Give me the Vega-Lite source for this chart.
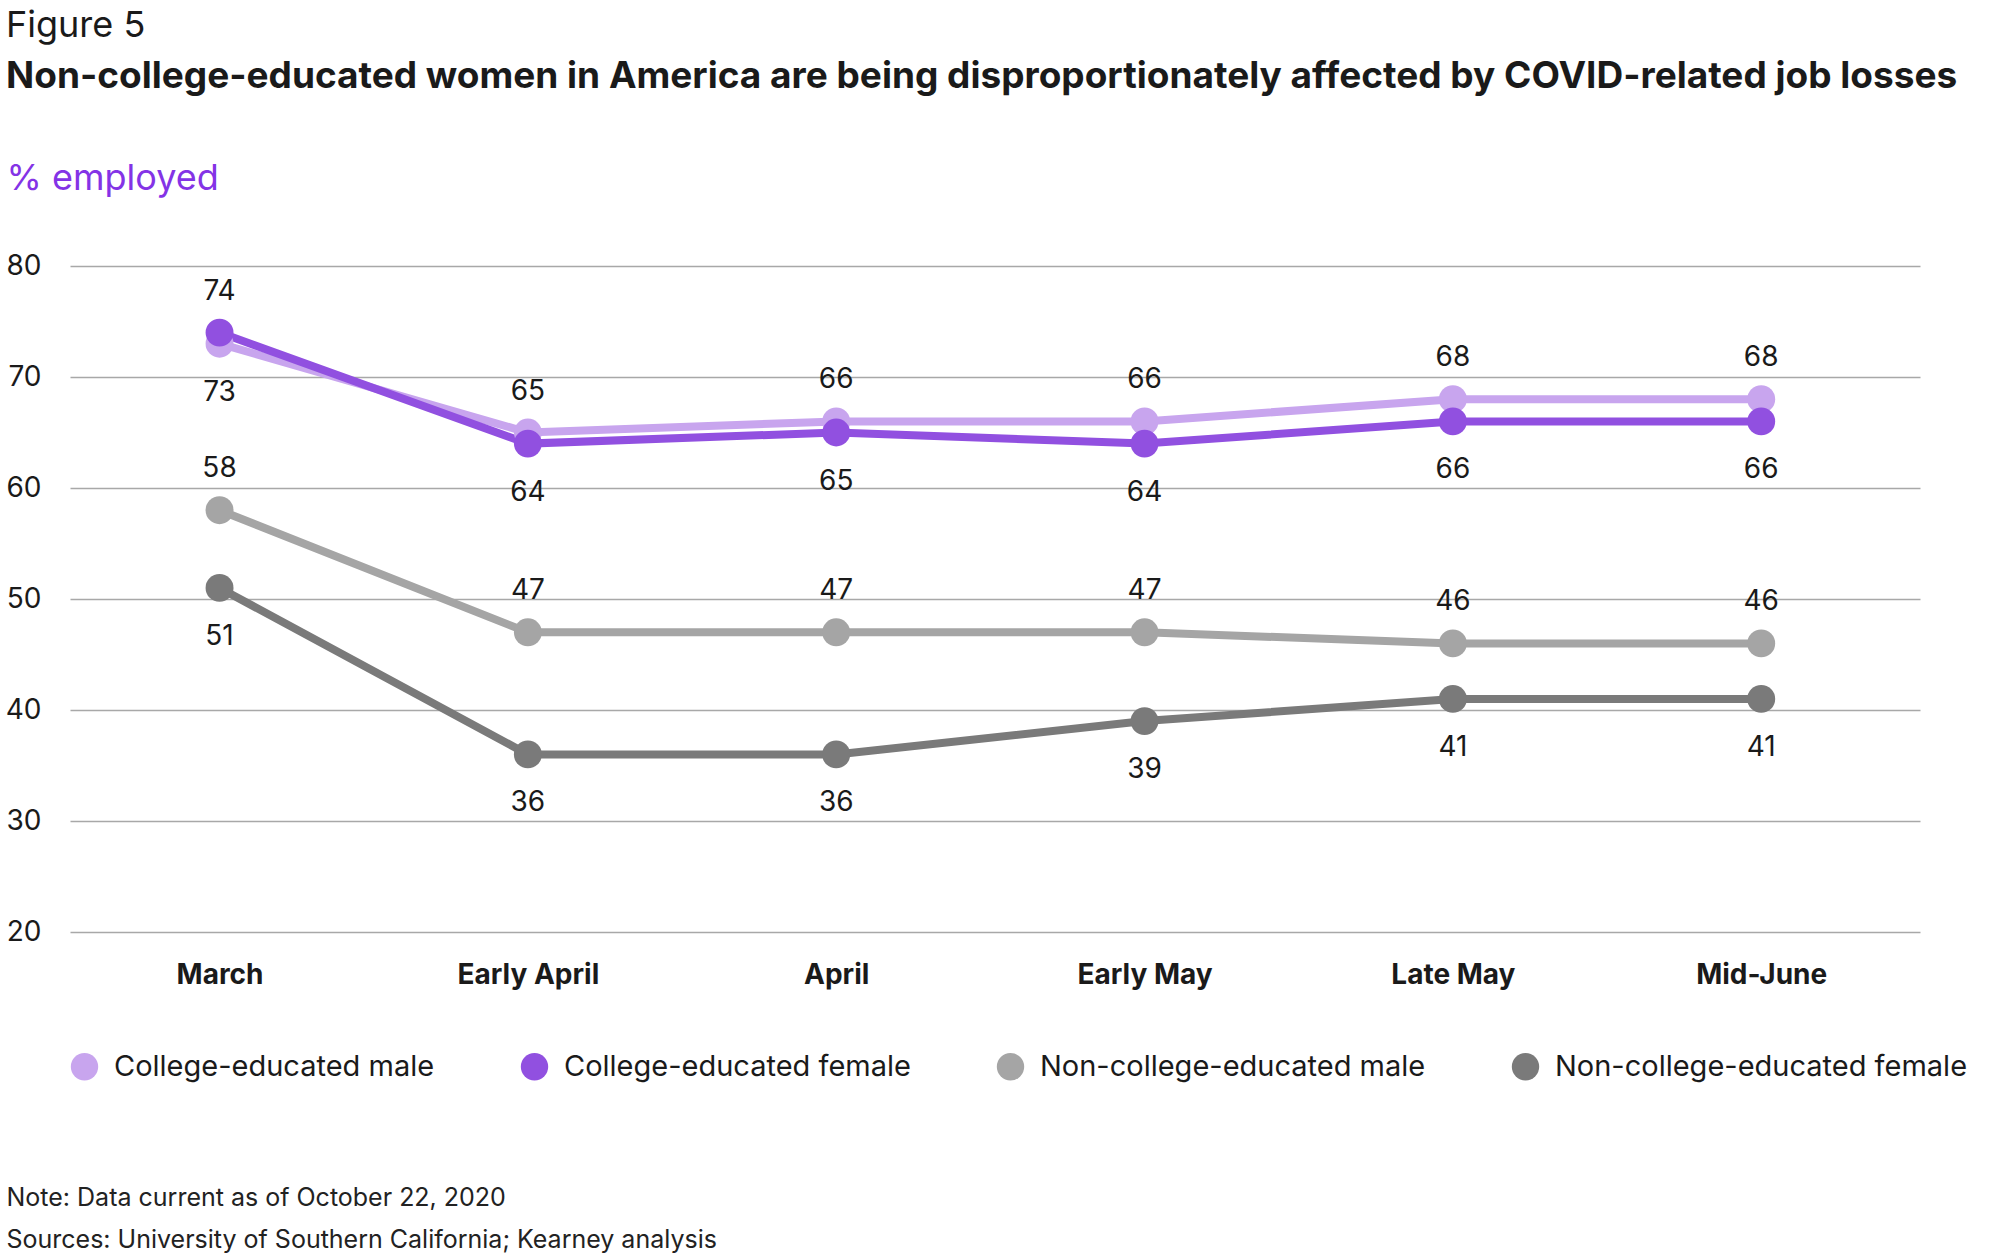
{
  "$schema": "https://vega.github.io/schema/vega-lite/v6.json",
  "width": 1850,
  "height": 666,
  "autosize": {"type": "none"},
  "padding": {"left": 70, "top": 266, "right": 80, "bottom": 322},
  "background": "white",
  "title": {
    "text": "Figure 5",
    "subtitle": "Non-college-educated women in America are being disproportionately affected by COVID-related job losses",
    "anchor": "start",
    "frame": "group",
    "dx": -64,
    "offset": 64,
    "font": "Inter",
    "fontSize": 36,
    "fontWeight": "normal",
    "color": "#1a1a1a",
    "subtitleFont": "Inter",
    "subtitleFontSize": 37,
    "subtitleFontWeight": "bold",
    "subtitleColor": "#1a1a1a",
    "subtitlePadding": 14
  },
  "config": {
    "view": {"stroke": null},
    "font": "Inter",
    "axis": {"labelFont": "Inter", "titleFont": "Inter"},
    "legend": {"labelFont": "Inter"}
  },
  "data": {
    "values": [
      {"period": "March", "group": "College-educated male", "value": 73},
      {"period": "Early April", "group": "College-educated male", "value": 65},
      {"period": "April", "group": "College-educated male", "value": 66},
      {"period": "Early May", "group": "College-educated male", "value": 66},
      {"period": "Late May", "group": "College-educated male", "value": 68},
      {"period": "Mid-June", "group": "College-educated male", "value": 68},
      {"period": "March", "group": "College-educated female", "value": 74},
      {"period": "Early April", "group": "College-educated female", "value": 64},
      {"period": "April", "group": "College-educated female", "value": 65},
      {"period": "Early May", "group": "College-educated female", "value": 64},
      {"period": "Late May", "group": "College-educated female", "value": 66},
      {"period": "Mid-June", "group": "College-educated female", "value": 66},
      {"period": "March", "group": "Non-college-educated male", "value": 58},
      {"period": "Early April", "group": "Non-college-educated male", "value": 47},
      {"period": "April", "group": "Non-college-educated male", "value": 47},
      {"period": "Early May", "group": "Non-college-educated male", "value": 47},
      {"period": "Late May", "group": "Non-college-educated male", "value": 46},
      {"period": "Mid-June", "group": "Non-college-educated male", "value": 46},
      {"period": "March", "group": "Non-college-educated female", "value": 51},
      {"period": "Early April", "group": "Non-college-educated female", "value": 36},
      {"period": "April", "group": "Non-college-educated female", "value": 36},
      {"period": "Early May", "group": "Non-college-educated female", "value": 39},
      {"period": "Late May", "group": "Non-college-educated female", "value": 41},
      {"period": "Mid-June", "group": "Non-college-educated female", "value": 41}
    ]
  },
  "encoding": {
    "x": {
      "field": "period",
      "type": "nominal",
      "sort": ["March", "Early April", "April", "Early May", "Late May", "Mid-June"],
      "scale": {"type": "point", "padding": 0.5, "align": 0.485},
      "axis": {
        "title": ["Note: Data current as of October 22, 2020", "Sources: University of Southern California; Kearney analysis"],
        "titleFontSize": 25,
        "titleFontWeight": "normal",
        "titleColor": "#222222",
        "titleAlign": "left",
        "titleAnchor": "start",
        "titleBaseline": "alphabetic",
        "titleX": -64,
        "titleY": 273,
        "titleLineHeight": 42,
        "labelAngle": 0,
        "labelFontSize": 28,
        "labelFontWeight": "bold",
        "labelColor": "#1a1a1a",
        "labelPadding": 29,
        "domain": false,
        "ticks": false,
        "grid": false
      }
    },
    "y": {
      "field": "value",
      "type": "quantitative",
      "scale": {"domain": [20, 80], "zero": false, "nice": false},
      "axis": {
        "values": [20, 30, 40, 50, 60, 70, 80],
        "title": "% employed",
        "titleAngle": 0,
        "titleAlign": "left",
        "titleBaseline": "alphabetic",
        "titleX": -64,
        "titleY": -77,
        "titleFontSize": 36,
        "titleFontWeight": "normal",
        "titleColor": "#8433e6",
        "labelFontSize": 28,
        "labelColor": "#1a1a1a",
        "labelPadding": 29,
        "domain": false,
        "ticks": false,
        "grid": true,
        "gridColor": "#a8a8a8",
        "gridWidth": 1.5
      }
    },
    "color": {
      "field": "group",
      "type": "nominal",
      "scale": {
        "domain": ["College-educated male", "College-educated female", "Non-college-educated male", "Non-college-educated female"],
        "range": ["#c8a5ee", "#9150e0", "#a5a5a5", "#7a7a7a"]
      },
      "legend": {
        "title": null,
        "orient": "none",
        "direction": "horizontal",
        "columns": 4,
        "legendX": 0,
        "legendY": 786,
        "padding": 0,
        "symbolType": "circle",
        "symbolSize": 750,
        "symbolOpacity": 1,
        "symbolStrokeWidth": 0,
        "labelFontSize": 29,
        "labelColor": "#1a1a1a",
        "labelOffset": 15,
        "columnPadding": 85,
        "labelLimit": 600
      }
    }
  },
  "layer": [
    {
      "mark": {"type": "line", "strokeWidth": 8}
    },
    {
      "mark": {"type": "circle", "size": 780, "opacity": 1}
    },
    {
      "transform": [
        {"filter": "(datum.group == 'College-educated male' && datum.period != 'March') || (datum.group == 'College-educated female' && datum.period == 'March') || datum.group == 'Non-college-educated male'"}
      ],
      "mark": {"type": "text", "dy": -41, "baseline": "middle", "fontSize": 28, "color": "#1a1a1a"},
      "encoding": {"text": {"field": "value", "type": "quantitative"}, "color": {"value": "#1a1a1a"}}
    },
    {
      "transform": [
        {"filter": "!((datum.group == 'College-educated male' && datum.period != 'March') || (datum.group == 'College-educated female' && datum.period == 'March') || datum.group == 'Non-college-educated male')"}
      ],
      "mark": {"type": "text", "dy": 49, "baseline": "middle", "fontSize": 28, "color": "#1a1a1a"},
      "encoding": {"text": {"field": "value", "type": "quantitative"}, "color": {"value": "#1a1a1a"}}
    }
  ]
}
